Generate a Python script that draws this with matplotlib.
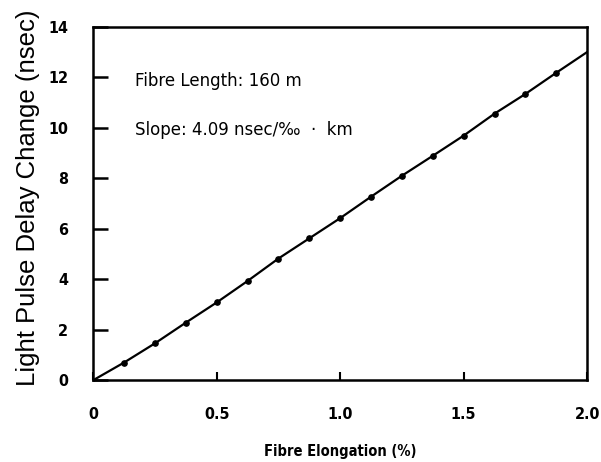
import matplotlib.pyplot as plt

# punkty pomiarowe
elong = [0.125, 0.25, 0.375, 0.5, 0.625, 0.75, 0.875, 1.0, 1.125, 1.25, 1.375, 1.5, 1.625, 1.75, 1.875]
delay = [0.70, 1.46, 2.28, 3.08, 3.93, 4.82, 5.62, 6.42, 7.27, 8.10, 8.89, 9.69, 10.56, 11.34, 12.18]

# krzywa przechodząca przez punkty
line_x = [0.0] + elong + [2.0]
line_y = [0.0] + delay + [13.0]

xticks = [0, 0.5, 1.0, 1.5, 2.0]
xtick_labels = ["0", "0.5", "1.0", "1.5", "2.0"]
yticks = [0, 2, 4, 6, 8, 10, 12, 14]

fig = plt.figure(figsize=(6.01, 4.62), dpi=100)
ax = fig.add_axes([0.155, 0.177, 0.822, 0.765])

ax.plot(line_x, line_y, color="black", lw=1.6)
ax.plot(elong, delay, "o", color="black", ms=3.8)

ax.set_xlim(0, 2.0)
ax.set_ylim(0, 14)
ax.set_xticks(xticks)
ax.set_xticklabels(xtick_labels)
ax.set_yticks(yticks)

for lab in ax.get_xticklabels() + ax.get_yticklabels():
    lab.set_family("DejaVu Sans")
    lab.set_fontweight("bold")
    lab.set_fontsize(11.5)
    lab.set_fontstretch("condensed")

ax.tick_params(axis="y", direction="in", length=11, width=1.8, pad=18)
ax.tick_params(axis="x", direction="in", length=6, width=1.5, pad=19)
for s in ax.spines.values():
    s.set_linewidth(1.8)

ax.set_ylabel("Light Pulse Delay Change (nsec)", family="Liberation Sans", fontsize=18.5)
ax.yaxis.set_label_coords(-0.107, 0.515)
ax.set_xlabel("Fibre Elongation (%)", family="DejaVu Sans", fontweight="bold",
              fontstretch="condensed", fontsize=10.5, labelpad=16)

ax.text(0.17, 11.87, "Fibre Length: 160 m", family="DejaVu Sans", fontsize=12, va="center")
ax.text(0.17, 9.92, "Slope: 4.09 nsec/\u2030  \u00b7  km", family="DejaVu Sans", fontsize=12, va="center")

fig.savefig("out.png", dpi=100)
